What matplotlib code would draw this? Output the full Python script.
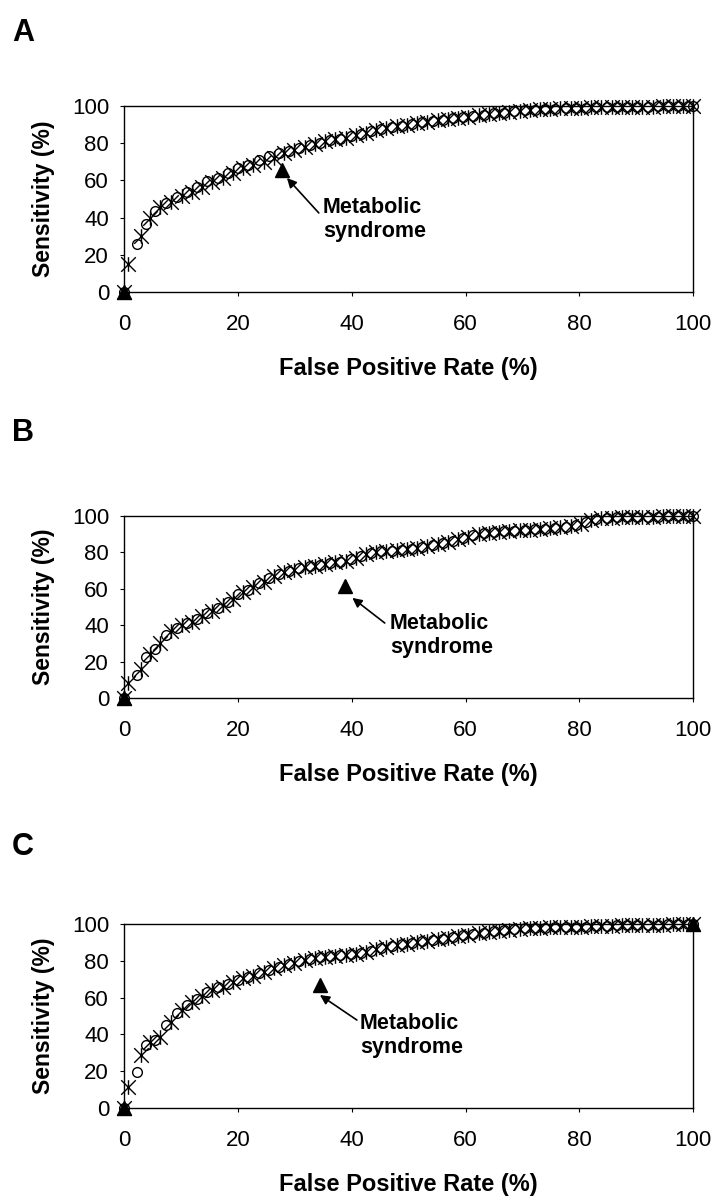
import matplotlib
matplotlib.use("Agg")
import matplotlib.pyplot as plt
from matplotlib.path import Path

plt.rcParams['font.family'] = ['Liberation Sans', 'DejaVu Sans']

# false positive rate (%) at each cut-off, circle series and star series
fpr_circle = [0, 2.2, 3.9, 5.4, 7.3, 9.2, 11.0, 12.8, 14.6, 16.4, 18.2, 20.0, 21.8, 23.6, 25.4,
              27.2, 29.0, 30.8, 32.6, 34.4, 36.2, 38.0, 39.8, 41.6, 43.4, 45.2, 47.0, 48.8, 50.6,
              52.4, 54.2, 56.0, 57.8, 59.6, 61.4, 63.2, 65.0, 66.8, 68.6, 70.4, 72.2, 74.0, 75.8,
              77.6, 79.4, 81.2, 83.0, 84.8, 86.6, 88.4, 90.2, 92.0, 93.8, 95.6, 97.4, 99.2, 100]
fpr_star = [0, 0.7, 3.0, 4.6, 6.3, 8.2, 10.1, 11.9, 13.7, 15.5, 17.3, 19.1, 20.9, 22.7, 24.5,
            26.3, 28.1, 29.9, 31.7, 33.5, 35.3, 37.1, 38.9, 40.7, 42.5, 44.3, 46.1, 47.9, 49.7,
            51.5, 53.3, 55.1, 56.9, 58.7, 60.5, 62.3, 64.1, 65.9, 67.7, 69.5, 71.3, 73.1, 74.9,
            76.7, 78.5, 80.3, 82.1, 83.9, 85.7, 87.5, 89.3, 91.1, 92.9, 94.7, 96.5, 98.3, 100]

# sensitivity (%) - panel A
a_sens_circle = [0, 26, 36.5, 43.5, 48, 51, 54, 56.5, 59.5, 61.5, 64, 66.5, 68.5, 71, 73,
                 74.5, 76, 77.5, 79, 80, 81.5, 82.5, 84, 85, 86.5, 87.5, 88.5, 89.5, 90.3, 91.2,
                 92, 92.6, 93.3, 94, 94.6, 95.2, 96, 96.5, 97.2, 97.6, 98, 98.3, 98.6, 98.8, 99,
                 99.1, 99.2, 99.3, 99.4, 99.5, 99.6, 99.7, 99.8, 99.8, 99.9, 100, 100]
a_sens_star = [0, 15, 30, 40, 45.5, 48.5, 51.5, 54, 56.5, 59, 61.5, 64, 66.5, 68.5, 70,
               72, 74.5, 76.5, 78, 79.5, 81, 82, 83, 84.5, 85.5, 87, 88, 89, 90, 90.8,
               91.6, 92.3, 93, 93.7, 94.3, 95, 95.6, 96.3, 96.8, 97.4, 97.8, 98.2, 98.5, 98.7, 98.9,
               99.1, 99.2, 99.3, 99.4, 99.5, 99.6, 99.7, 99.7, 99.8, 99.9, 100, 100]

# panel B
b_sens_circle = [0, 12.8, 22.5, 27, 34.5, 38.5, 41, 43.5, 46.5, 49.5, 53, 57, 59.5, 63, 66,
                 68, 69.8, 71.2, 72.3, 73, 74, 74.8, 76.3, 78, 79.5, 80.5, 81, 81.5, 82, 83,
                 84, 85, 86.4, 88, 89.5, 90.4, 91, 91.5, 92, 92.3, 92.6, 93, 93.5, 94.2, 95,
                 96.5, 98.5, 99, 99.2, 99.4, 99.5, 99.6, 99.7, 99.8, 99.9, 100, 100]
b_sens_star = [0, 8, 16, 24, 30, 37, 40, 42, 45, 48, 51, 54.5, 58, 61, 64,
               67, 69, 70.5, 72, 72.5, 73.5, 74.5, 75.5, 77, 79, 80, 80.8, 81.3, 81.8, 82.5,
               83.5, 84.5, 85.7, 87.2, 88.7, 90, 90.7, 91.3, 91.8, 92.2, 92.5, 92.8, 93.2, 93.8, 94.6,
               95.8, 97.8, 98.8, 99.1, 99.3, 99.5, 99.6, 99.7, 99.8, 99.9, 100, 100]

# panel C
c_sens_circle = [0, 19.7, 34, 37, 45, 51.5, 56, 59.5, 63, 65.5, 67.2, 69.5, 71.3, 73.2, 75,
                 76.8, 78.5, 80, 81.2, 82, 82.5, 83, 83.5, 84.3, 85.5, 87, 88, 89, 89.8, 90.7,
                 91.4, 92, 93, 93.8, 94.6, 95.2, 96, 96.6, 97.2, 97.6, 97.8, 98, 98.2, 98.4, 98.5,
                 98.6, 98.8, 99, 99.2, 99.3, 99.4, 99.5, 99.7, 99.8, 99.9, 100, 100]
c_sens_star = [0, 11.6, 28.8, 36, 38.5, 47, 53, 57.5, 61, 64, 66, 68.5, 70.5, 72, 74,
               76, 77.5, 79, 80.5, 81.5, 82.2, 82.7, 83.2, 83.8, 84.8, 86.2, 87.5, 88.5, 89.4, 90.2,
               91, 91.7, 92.5, 93.4, 94.2, 94.9, 95.6, 96.3, 96.9, 97.4, 97.7, 97.9, 98.1, 98.3, 98.4,
               98.5, 98.7, 98.9, 99.1, 99.2, 99.3, 99.5, 99.6, 99.7, 99.9, 100, 100]

# metabolic syndrome point(s)
a_ms_fpr, a_ms_sens = [0, 27.7], [0, 65.6]
b_ms_fpr, b_ms_sens = [0, 38.8], [0, 61.7]
c_ms_fpr, c_ms_sens = [0, 34.4, 100], [0, 66.8, 100]

panels = ["A", "B", "C"]
ticks = [0, 20, 40, 60, 80, 100]

# Excel-like "star" marker: an x with a vertical bar
star = Path([(-1, -1), (1, 1), (-1, 1), (1, -1), (0, -1), (0, 1)],
            [Path.MOVETO, Path.LINETO, Path.MOVETO, Path.LINETO, Path.MOVETO, Path.LINETO])

fig = plt.figure(figsize=(7.16, 11.96), dpi=100)
W, H = 716, 1196

# axes boxes in pixels: left, right, top, bottom
boxes = [(124.3, 693, 106, 292), (124.3, 693, 516, 698), (124.3, 693, 924, 1108)]
letter_y = [33, 433, 847]
series = [
    (a_sens_circle, a_sens_star, a_ms_fpr, a_ms_sens, (34.9, 39.0), (34.2, 42.5), (28.6, 61.3)),
    (b_sens_circle, b_sens_star, b_ms_fpr, b_ms_sens, (46.7, 34.3), (45.8, 41.2), (40.1, 55.0)),
    (c_sens_circle, c_sens_star, c_ms_fpr, c_ms_sens, (41.4, 39.4), (40.9, 47.8), (34.4, 61.4)),
]

for i, (l, r, t, b) in enumerate(boxes):
    ax = fig.add_axes([l / W, 1 - b / H, (r - l) / W, (b - t) / H])
    s_o, s_x, ms_x, ms_y, txt_pos, tail, head = series[i]
    ax.plot(fpr_circle, s_o, linestyle='none', marker='o', ms=7, mfc='none',
            mec='black', mew=1.0, clip_on=False, zorder=3)
    ax.plot(fpr_star, s_x, linestyle='none', marker=star, ms=10.5,
            mec='black', mew=1.0, clip_on=False, zorder=4)
    ax.plot(ms_x, ms_y, linestyle='none', marker='^', ms=10.5, color='black',
            clip_on=False, zorder=5)
    ax.annotate('', xy=head, xytext=tail,
                arrowprops=dict(arrowstyle='-|>', color='black', lw=1.2,
                                mutation_scale=14, shrinkA=0, shrinkB=0))
    ax.text(txt_pos[0], txt_pos[1], "Metabolic\nsyndrome", ha='left', va='center',
            fontsize=15.5, fontweight='bold', linespacing=1.15)

    ax.set_xlim(0, 100)
    ax.set_ylim(0, 100)
    ax.set_xticks(ticks)
    ax.set_yticks(ticks)
    ax.tick_params(axis='both', direction='out', length=3, width=0.8,
                   labelsize=16)
    ax.tick_params(axis='x', pad=13)
    ax.tick_params(axis='y', pad=8)
    for sp in ax.spines.values():
        sp.set_linewidth(1.0)
    ax.set_xlabel("False Positive Rate (%)", fontsize=17, fontweight='bold', labelpad=16)
    ax.set_ylabel("Sensitivity (%)", fontsize=16.5, fontweight='bold', labelpad=12)
    fig.text(12 / W, 1 - letter_y[i] / H, panels[i], fontsize=22, fontweight='bold',
             ha='left', va='center')

fig.savefig("out.png", dpi=100)
